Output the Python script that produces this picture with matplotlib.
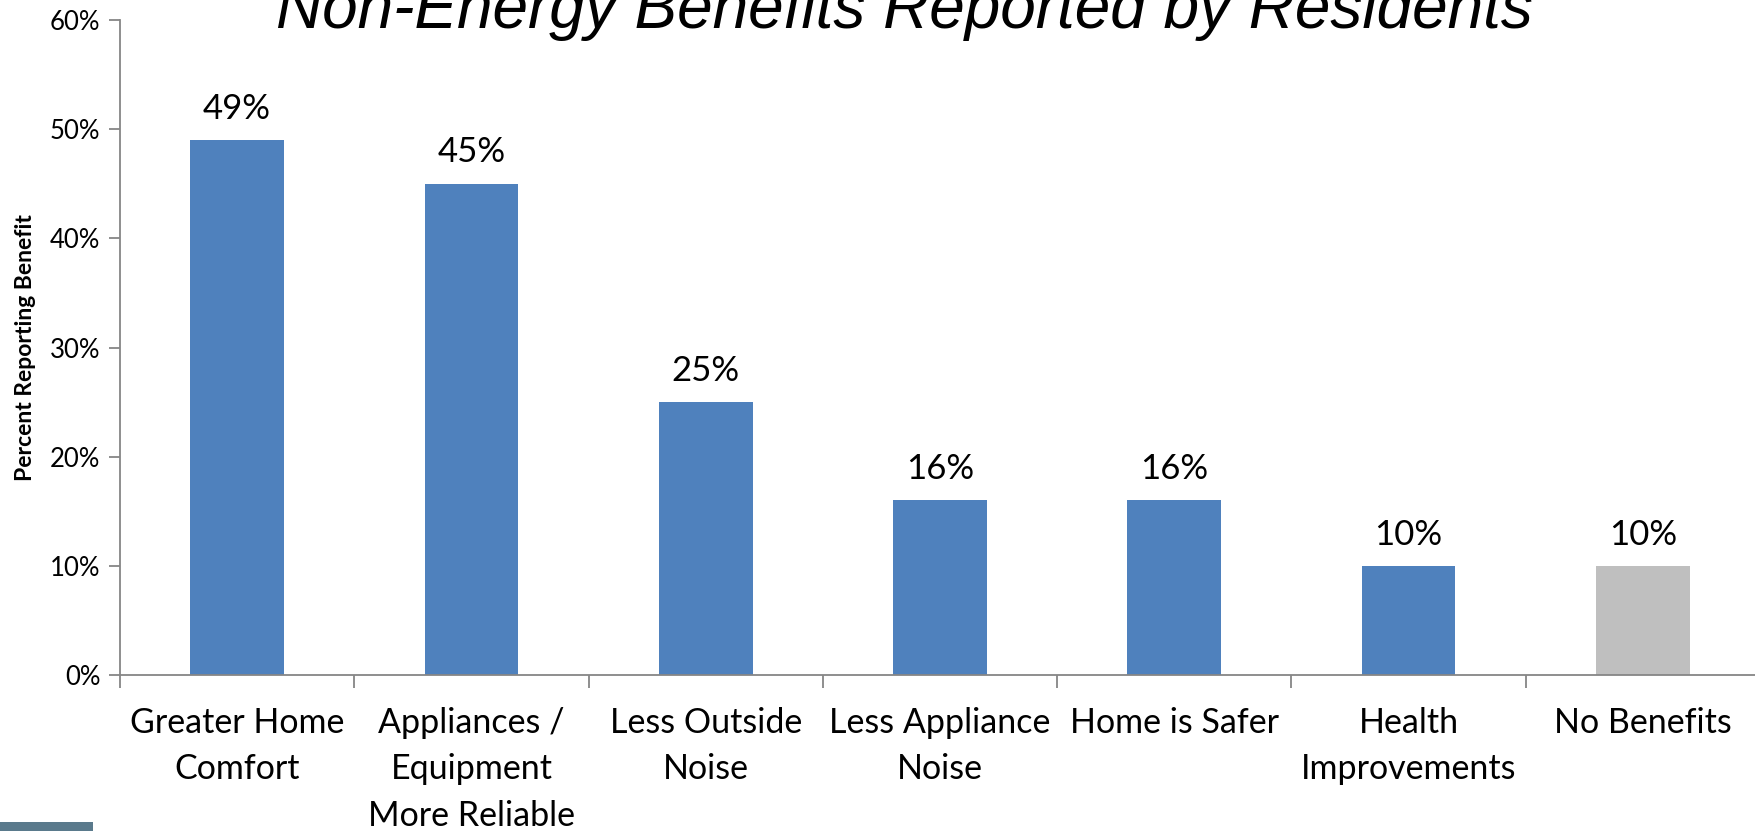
import matplotlib
matplotlib.use("Agg")
import matplotlib.pyplot as plt
from matplotlib.patches import Rectangle
from matplotlib.ticker import FixedLocator, NullFormatter

categories = ["Greater Home\nComfort", "Appliances /\nEquipment\nMore Reliable",
              "Less Outside\nNoise", "Less Appliance\nNoise", "Home is Safer",
              "Health\nImprovements", "No Benefits"]
values = [49, 45, 25, 16, 16, 10, 10]
colors = ["#4F81BD"] * 6 + ["#BFBFBF"]
yticks = [0, 10, 20, 30, 40, 50, 60]

FONT = "Lato"
AXC = "#868686"

W, H = 1756, 831
fig = plt.figure(figsize=(W / 100, H / 100), dpi=100)
fig.patch.set_facecolor("white")

# plot area in pixel terms: y axis at x=120, 0% at y=675, 60% at y=20
left, right = 120 / W, 1760 / W
bottom, top = 1 - 675 / H, 1 - 20 / H
ax = fig.add_axes([left, bottom, right - left, top - bottom])

x = range(len(categories))
bars = ax.bar(x, values, width=0.4, color=colors, zorder=2)

ax.set_xlim(-0.5, len(categories) - 0.5)
ax.set_ylim(0, 60)
ax.set_yticks(yticks)
ax.set_yticklabels([f"{v}%" for v in yticks], fontsize=18.5, family=FONT)

ax.set_xticks(list(x))
ax.set_xticklabels(categories, fontsize=24.5, family=FONT, linespacing=1.55, va="top")
ax.tick_params(axis="x", which="major", length=0, pad=23)
ax.xaxis.set_minor_locator(FixedLocator([i + 0.5 for i in range(-1, len(categories))]))
ax.xaxis.set_minor_formatter(NullFormatter())
ax.tick_params(axis="x", which="minor", length=9, width=1.3, color=AXC, direction="out")
ax.tick_params(axis="y", length=8, width=1.3, color=AXC, direction="out", pad=6)

for s in ["top", "right"]:
    ax.spines[s].set_visible(False)
for s in ["left", "bottom"]:
    ax.spines[s].set_color(AXC)
    ax.spines[s].set_linewidth(1.3)

for b, v in zip(bars, values):
    ax.annotate(f"{v}%", (b.get_x() + b.get_width() / 2, v), xytext=(0, 11),
                textcoords="offset points", ha="center", va="bottom",
                fontsize=25, family=FONT)

ax.set_ylabel("Percent Reporting Benefit", fontsize=16.5, fontweight="bold",
              family=FONT, labelpad=10)

fig.text(904 / W, 1 - 28 / H, "Non-Energy Benefits Reported by Residents",
         ha="center", va="baseline", fontsize=46, style="italic",
         family="Liberation Sans")

# small slate block in the lower left corner
fig.patches.append(Rectangle((0, 0), 93 / W, 9 / H, transform=fig.transFigure,
                             facecolor="#5A7A8C", edgecolor="none"))

fig.savefig("out.png", dpi=100)
